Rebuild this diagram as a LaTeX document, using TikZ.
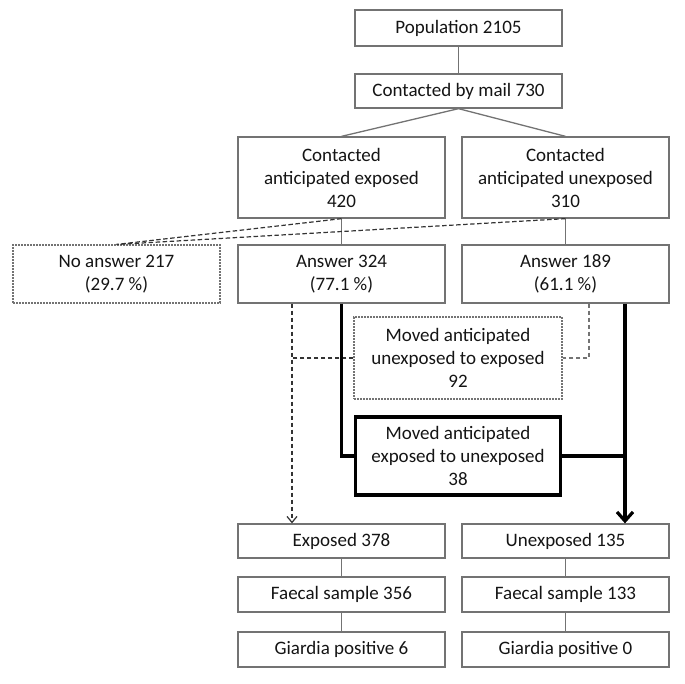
\documentclass[tikz,border=0pt]{standalone}
\usepackage{fontspec}
\setmainfont{Carlito}
\usetikzlibrary{arrows,arrows.meta}

\definecolor{boxgray}{RGB}{115,115,115}
\definecolor{txt}{RGB}{20,20,20}

\begin{document}
\begin{tikzpicture}[x=1pt,y=1pt,auto=left,
    box/.style={draw=boxgray, line width=1.3pt, text=txt, align=center, anchor=center,
      minimum width=207pt, inner sep=2pt, font=\fontsize{19}{23}\selectfont},
    dotbox/.style={box, line width=1.1pt, dash pattern=on 1.8pt off 1.2pt},
    heavybox/.style={box, draw=black, line width=3.2pt, minimum width=205pt},
    link/.style={draw=boxgray, line width=1.3pt},
    dashlink/.style={draw=black!80, line width=1.2pt, dash pattern=on 4.5pt off 2.5pt},
    heavylink/.style={draw=black, line width=3.2pt}]
    \useasboundingbox (0,0) rectangle (685,-683);
    \node (A) [box, minimum height=36pt] at (458.5, -28) {Population 2105};
    \node (B) [box, minimum height=34pt] at (458.5, -91) {Contacted by mail 730};
    \node (C) [box, minimum height=81pt] at (341.5, -177.5) {Contacted\\anticipated exposed\\420};
    \node (D) [box, minimum height=81pt] at (565.5, -177.5) {Contacted\\anticipated unexposed\\310};
    \node (E) [dotbox, minimum height=58pt] at (116.5, -274) {No answer 217\\(29.7 \%)};
    \node (F) [box, minimum height=58pt] at (341.5, -274) {Answer 324\\(77.1 \%)};
    \node (G) [box, minimum height=58pt] at (565.5, -274) {Answer 189\\(61.1 \%)};
    \node (H) [dotbox, minimum width=208pt, minimum height=82pt] at (458, -358) {Moved anticipated\\unexposed to exposed\\92};
    \node (I) [heavybox, minimum height=78pt] at (458, -456) {Moved anticipated\\exposed to unexposed\\38};
    \node (J) [box, minimum height=34pt] at (341.5, -541) {Exposed 378};
    \node (K) [box, minimum height=34pt] at (565.5, -541) {Unexposed 135};
    \node (L) [box, minimum height=35pt] at (341.5, -594.5) {Faecal sample 356};
    \node (M) [box, minimum height=35pt] at (565.5, -594.5) {Faecal sample 133};
    \node (N) [box, minimum height=35pt] at (341.5, -649.5) {Giardia positive 6};
    \node (O) [box, minimum height=35pt] at (565.5, -649.5) {Giardia positive 0};
    \coordinate (p) at (292, -358);
    \coordinate (q) at (589, -358);
    \coordinate (r) at (625, -461);
    \draw[link] (A) -- (B);
    \draw[link] (B.south) -- (C.north);
    \draw[link] (B.south) -- (D.north);
    \draw[link] (C) -- (F);
    \draw[link] (D) -- (G);
    \draw[dashlink] (C.south) -- (E.north);
    \draw[dashlink] (D.south) -- (E.north);
    \draw[dashlink,-{Straight Barb[length=6pt,width=10pt]}] (F.south -| p) -- (J.north -| p);
    \draw[dashlink,draw=boxgray] (G.south -| q) |- (H.east);
    \draw[dashlink] (H.west) -- (p);
    \draw[heavylink] (F.south) |- (I.west);
    \draw[heavylink] (I.east) -- (I.east -| r);
    \draw[heavylink,-{Straight Barb[length=9pt,width=16pt]}] (G.south -| r) -- (K.north -| r);
    \draw[link] (J) -- (L);
    \draw[link] (L) -- (N);
    \draw[link] (K) -- (M);
    \draw[link] (M) -- (O);
  \end{tikzpicture}
\end{document}
